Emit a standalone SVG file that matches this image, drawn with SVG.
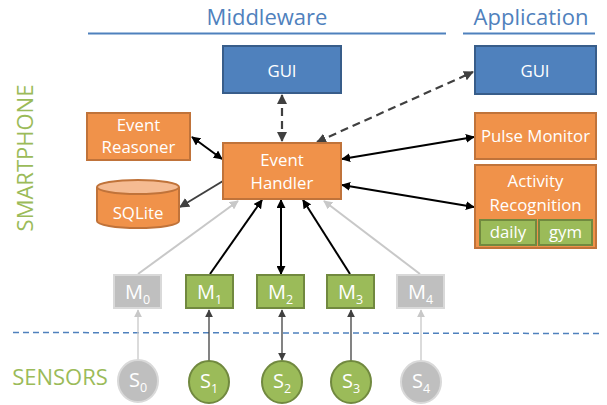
<svg xmlns="http://www.w3.org/2000/svg" width="607" height="405" viewBox="0 0 607 405">
<style>
text{font-family:"Open Sans","Liberation Sans",sans-serif;text-anchor:middle}
.hdr{fill:#4f81bd;font-size:22px}
.side{fill:#9bbb59;font-size:22px}
.blue{fill:#4f81bd;stroke:#385d8a;stroke-width:2}
.org{fill:#f0924a;stroke:#c0733a;stroke-width:2}
.grn{fill:#9bbb59;stroke:#71893f;stroke-width:2}
.gry{fill:#bfbfbf;stroke:#d9d9d9;stroke-width:2}
.wt{fill:#ffffff;font-size:16.8px}
.mt{fill:#ffffff;font-size:20px}
.bk{stroke:#000000;stroke-width:2;fill:none}
.lg{stroke:#c8c8c8;stroke-width:2;fill:none}
.dg{stroke:#404040;stroke-width:2;fill:none}
.dash{stroke:#404040;stroke-width:2.2;fill:none;stroke-dasharray:8 5}
.thin{stroke:#404040;stroke-width:1.3;fill:none}
.thinl{stroke:#c8c8c8;stroke-width:1.3;fill:none}
</style>
<defs>
<marker id="ab" viewBox="0 0 10 10" refX="9" refY="5" markerWidth="9" markerHeight="9" markerUnits="userSpaceOnUse" orient="auto-start-reverse"><path d="M0,0 L10,5 L0,10 z" fill="#000000"/></marker>
<marker id="ad" viewBox="0 0 10 10" refX="9" refY="5" markerWidth="10" markerHeight="10" markerUnits="userSpaceOnUse" orient="auto-start-reverse"><path d="M0,0 L10,5 L0,10 z" fill="#404040"/></marker>
<marker id="al" viewBox="0 0 10 10" refX="9" refY="5" markerWidth="9" markerHeight="9" markerUnits="userSpaceOnUse" orient="auto-start-reverse"><path d="M0,0 L10,5 L0,10 z" fill="#c8c8c8"/></marker>
<marker id="ads" viewBox="0 0 10 10" refX="9" refY="5" markerWidth="8" markerHeight="8" markerUnits="userSpaceOnUse" orient="auto-start-reverse"><path d="M0,0 L10,5 L0,10 z" fill="#404040"/></marker>
<marker id="als" viewBox="0 0 10 10" refX="9" refY="5" markerWidth="8" markerHeight="8" markerUnits="userSpaceOnUse" orient="auto-start-reverse"><path d="M0,0 L10,5 L0,10 z" fill="#c8c8c8"/></marker>
</defs>

<g id="headers">
<text class="hdr" x="267" y="25">Middleware</text>
<line x1="88" y1="33.5" x2="446" y2="33.5" stroke="#4f81bd" stroke-width="2"/>
<text class="hdr" x="531" y="25">Application</text>
<line x1="463" y1="33.5" x2="595" y2="33.5" stroke="#4f81bd" stroke-width="2"/>
<text class="side" transform="translate(33,158) rotate(-90)">SMARTPHONE</text>
<text class="side" x="60" y="385">SENSORS</text>
<line x1="13" y1="332.5" x2="600" y2="333.5" stroke="#4f81bd" stroke-width="1.5" stroke-dasharray="6 4"/>
</g>

<g id="connectors">
<line class="dash" x1="282" y1="95" x2="282" y2="141" marker-start="url(#ad)" marker-end="url(#ad)"/>
<line class="dash" x1="317" y1="142" x2="473" y2="72" marker-start="url(#ad)" marker-end="url(#ad)"/>
<line class="bk" x1="192" y1="137" x2="222" y2="159" marker-start="url(#ab)" marker-end="url(#ab)"/>
<line class="dg" x1="223" y1="181" x2="180" y2="207" marker-end="url(#ad)"/>
<line class="bk" x1="342" y1="159" x2="474" y2="137" marker-start="url(#ab)" marker-end="url(#ab)"/>
<line class="bk" x1="342" y1="185" x2="474" y2="207" marker-start="url(#ab)" marker-end="url(#ab)"/>
<line class="lg" x1="138" y1="274" x2="238" y2="201" marker-end="url(#al)"/>
<line class="bk" x1="210" y1="274" x2="262" y2="200" marker-end="url(#ab)"/>
<line class="bk" x1="281" y1="200" x2="281" y2="274" marker-start="url(#ab)" marker-end="url(#ab)"/>
<line class="bk" x1="350" y1="274" x2="303" y2="200" marker-end="url(#ab)"/>
<line class="lg" x1="420" y1="274" x2="324" y2="201" marker-end="url(#al)"/>
<line class="thinl" x1="138" y1="360" x2="138" y2="310" marker-end="url(#als)"/>
<line class="thin" x1="209" y1="361" x2="209" y2="310" marker-end="url(#ads)"/>
<line class="thin" x1="282" y1="310" x2="282" y2="360" marker-start="url(#ads)" marker-end="url(#ads)"/>
<line class="thin" x1="351" y1="361" x2="351" y2="310" marker-end="url(#ads)"/>
<line class="thinl" x1="421" y1="361" x2="421" y2="310" marker-end="url(#als)"/>
</g>

<g id="gui-mw"><rect class="blue" x="223" y="46" width="118" height="47"/><text class="wt" x="282" y="77">GUI</text></g>
<g id="gui-app"><rect class="blue" x="475" y="46" width="121" height="48"/><text class="wt" x="535" y="77">GUI</text></g>
<g id="event-reasoner"><rect class="org" x="87" y="113" width="103" height="47"/><text class="wt" x="138.5" y="131">Event</text><text class="wt" x="138.5" y="153">Reasoner</text></g>
<g id="event-handler"><rect class="org" x="223" y="143" width="118" height="56"/><text class="wt" x="282" y="166">Event</text><text class="wt" x="282" y="189">Handler</text></g>
<g id="sqlite">
<path class="org" d="M97,187 L97,221 A41,7 0 0 0 179,221 L179,187"/>
<ellipse cx="138" cy="187" rx="41" ry="7" fill="#f5bb92" stroke="#c0733a" stroke-width="2"/>
<text class="wt" x="138" y="219">SQLite</text>
</g>
<g id="pulse-monitor"><rect class="org" x="475" y="113" width="121" height="46"/><text class="wt" x="535.5" y="142">Pulse Monitor</text></g>
<g id="activity-recognition">
<rect class="org" x="475" y="165" width="121" height="83"/>
<text class="wt" x="535.5" y="187">Activity</text><text class="wt" x="535.5" y="211">Recognition</text>
<rect class="grn" x="480" y="220" width="56" height="25"/><text class="wt" x="508" y="238">daily</text>
<rect class="grn" x="539" y="220" width="53" height="25"/><text class="wt" x="565.5" y="238">gym</text>
</g>

<g id="m0"><rect class="gry" x="114" y="275" width="47" height="33"/><text class="mt" x="137.5" y="299">M<tspan font-size="12.5" dy="5">0</tspan></text></g>
<g id="m1"><rect class="grn" x="186" y="275" width="47" height="33"/><text class="mt" x="209.5" y="299">M<tspan font-size="12.5" dy="5">1</tspan></text></g>
<g id="m2"><rect class="grn" x="257" y="275" width="47" height="33"/><text class="mt" x="280.5" y="299">M<tspan font-size="12.5" dy="5">2</tspan></text></g>
<g id="m3"><rect class="grn" x="327" y="275" width="47" height="33"/><text class="mt" x="350.5" y="299">M<tspan font-size="12.5" dy="5">3</tspan></text></g>
<g id="m4"><rect class="gry" x="397" y="275" width="47" height="33"/><text class="mt" x="420.5" y="299">M<tspan font-size="12.5" dy="5">4</tspan></text></g>

<g id="s0"><ellipse class="gry" cx="138" cy="381" rx="20" ry="21"/><text class="mt" x="138" y="387">S<tspan font-size="12.5" dy="5">0</tspan></text></g>
<g id="s1"><ellipse class="grn" cx="209" cy="382" rx="20" ry="21"/><text class="mt" x="209" y="388">S<tspan font-size="12.5" dy="5">1</tspan></text></g>
<g id="s2"><ellipse class="grn" cx="282" cy="382" rx="20" ry="21"/><text class="mt" x="282" y="388">S<tspan font-size="12.5" dy="5">2</tspan></text></g>
<g id="s3"><ellipse class="grn" cx="351" cy="382" rx="20" ry="21"/><text class="mt" x="351" y="388">S<tspan font-size="12.5" dy="5">3</tspan></text></g>
<g id="s4"><ellipse class="gry" cx="421" cy="382" rx="20" ry="21"/><text class="mt" x="421" y="388">S<tspan font-size="12.5" dy="5">4</tspan></text></g>
</svg>
